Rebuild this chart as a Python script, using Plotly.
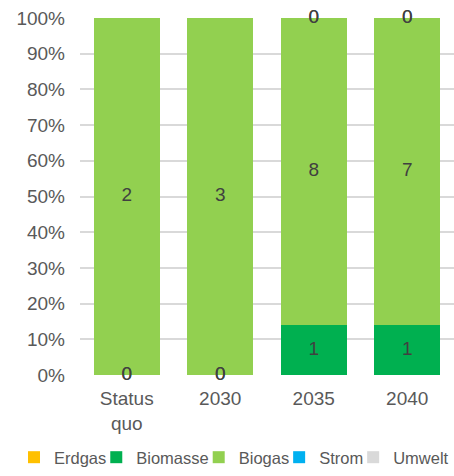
import numpy as np
import plotly.graph_objects as go

categories = ["Status<br>quo", "2030", "2035", "2040"]
series_names = ["Erdgas", "Biomasse", "Biogas", "Strom", "Umwelt"]
erdgas = [0, 0, None, None]
biomasse = [0, 0, 1.3, 1.1]
biogas = [2, 3, 8.0, 6.8]
strom = [None, None, 0, 0]
umwelt = [None, None, 0, 0]
colors = ["#FFC000", "#00B050", "#92D050", "#00B0F0", "#D9D9D9"]
tick_vals = [0, 10, 20, 30, 40, 50, 60, 70, 80, 90, 100]
tick_text = [f"{v}%" for v in tick_vals]

FONT = "Liberation Sans, Arial, sans-serif"
LEG_SIZE = 16.5
# Arial/Liberation Sans advance widths (per 1000 em) for legend sizing
_w = {"E": 667, "r": 333, "d": 556, "g": 556, "a": 556, "s": 500, "B": 667, "i": 222,
      "o": 556, "m": 833, "e": 556, "S": 667, "t": 278, "U": 722, "w": 722, "l": 222}
def text_w(s, size):
    return sum(_w.get(ch, 556) for ch in s) / 1000 * size

series = [erdgas, biomasse, biogas, strom, umwelt]
arr = np.array([[np.nan if v is None else v for v in s] for s in series], dtype=float)
totals = np.nansum(arr, axis=0)
pct = np.where(np.isnan(arr), 0, arr) / totals * 100

fig = go.Figure()
for k, (name, vals, p, c) in enumerate(zip(series_names, series, pct, colors)):
    lw = text_w(name, LEG_SIZE) - (15 if k < len(series_names) - 1 else 0)
    fig.add_trace(go.Bar(x=categories, y=p, name=name, marker_color=c,
                         marker_line_width=0, hoverinfo="skip", legendwidth=lw))

# data labels at segment centers
cum = np.cumsum(pct, axis=0)
lx, ly, lt = [], [], []
for i, vals in enumerate(series):
    for j, v in enumerate(vals):
        if v is None:
            continue
        lx.append(categories[j])
        ly.append(cum[i, j] - pct[i, j] / 2)
        lt.append(f"{v:.0f}")
fig.add_trace(go.Scatter(x=lx, y=ly, text=lt, mode="text", showlegend=False,
                         textposition="middle center", cliponaxis=False,
                         textfont=dict(size=19, color="#404040", family=FONT),
                         hoverinfo="skip"))

fig.update_layout(
    barmode="stack",
    bargap=0.29,
    width=454, height=476,
    margin=dict(l=80, r=0, t=18, b=101),
    plot_bgcolor="white", paper_bgcolor="white",
    font=dict(family=FONT, size=19, color="#595959"),
    legend=dict(orientation="h", x=-0.133, xanchor="left", y=-0.231, yanchor="middle",
                font=dict(size=LEG_SIZE, color="#595959", family=FONT), itemwidth=30,
                traceorder="normal", bgcolor="rgba(0,0,0,0)"),
    showlegend=True,
    hovermode=False,
)
fig.update_yaxes(range=[0, 100], tickvals=tick_vals, ticktext=tick_text,
                 showgrid=True, gridcolor="#D9D9D9", gridwidth=1.5, zeroline=False,
                 showline=False, ticklabelstandoff=14, fixedrange=True,
                 tickfont=dict(size=19, color="#595959"))
fig.update_xaxes(showgrid=False, showline=False, ticklabelstandoff=10,
                 tickfont=dict(size=19, color="#595959"), fixedrange=True)

# remove the browser's default 8px body margin so the figure fills the window
fig.write_html("out.html", config={"displayModeBar": False},
               post_script="document.body.style.margin='0';")
